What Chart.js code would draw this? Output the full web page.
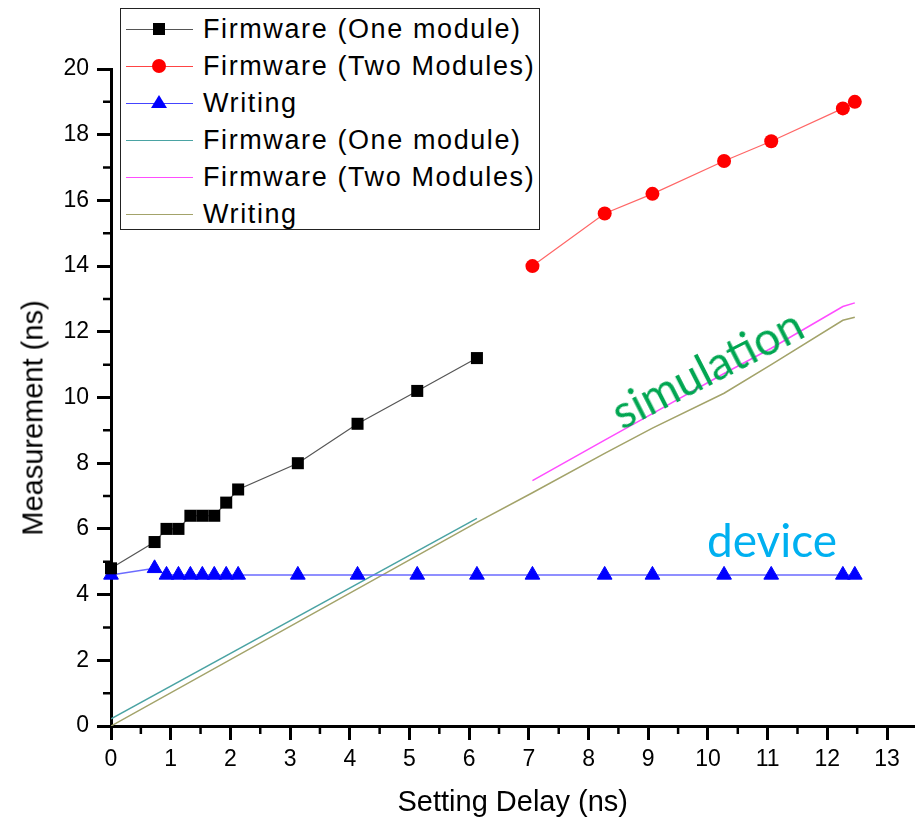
<!DOCTYPE html>
<html>
<head>
<meta charset="utf-8">
<script src="https://cdn.jsdelivr.net/npm/chart.js@4.4.1/dist/chart.umd.min.js"></script>
<style>
  body { margin: 0; background: #fff; }
  #wrap { position: relative; width: 916px; height: 822px; overflow: hidden; }
  #c { position: absolute; left: 0; top: 0; }
  #legend {
    position: absolute; left: 120px; top: 8px; width: 420px; height: 222px;
    border: 1px solid #222; background: #fff; box-sizing: border-box;
    font-family: "Liberation Sans", Arial, sans-serif; font-size: 27px; letter-spacing: 1.6px;
  }
  .row { position: absolute; left: 0; height: 37px; width: 100%; }
  .row .ln { position: absolute; left: 5px; width: 67px; top: 18px; height: 0; border-top: 1px solid; }
  .row .mk { position: absolute; }
  .row .tx { position: absolute; left: 82px; top: 2px; line-height: 32px; color: #000; white-space: nowrap; }
  .note { position: absolute; font-family: Lato, "Open Sans", sans-serif; font-size: 46px; white-space: nowrap; line-height: 1; }
  #ytitle { position: absolute; left: 33px; top: 418px; transform: translate(-50%,-50%) rotate(-90deg);
    font-family: "Liberation Sans", Arial, sans-serif; font-size: 29px; white-space: nowrap; color: #000; line-height: 1; }
</style>
</head>
<body>
<div id="wrap">
  <canvas id="c" width="924" height="822"></canvas>
  <div id="ytitle">Measurement (ns)</div>
  <div id="legend"></div>
  <div class="note" style="left:707px; top:368px; color:#00a651; transform: translate(-50%,-50%) rotate(-27deg);">simulation</div>
  <div class="note" style="left:772px; top:540px; color:#00b0f0; transform: translate(-50%,-50%);">device</div>
</div>
<script>
// measured data
const delayOne = [0, 0.73, 0.93, 1.13, 1.33, 1.53, 1.73, 1.93, 2.13, 3.13, 4.13, 5.13, 6.13];
const firmwareOne = [4.8, 5.6, 6.0, 6.0, 6.4, 6.4, 6.4, 6.8, 7.2, 8.0, 9.2, 10.2, 11.2];
const delayTwo = [7.06, 8.27, 9.07, 10.27, 11.06, 12.26, 12.46];
const firmwareTwo = [14.0, 15.6, 16.2, 17.2, 17.8, 18.8, 19.0];
const writingDelay = [0, 0.73, 0.93, 1.13, 1.33, 1.53, 1.73, 1.93, 2.13, 3.13, 4.13, 5.13, 6.13,
  7.06, 8.27, 9.07, 10.27, 11.06, 12.26, 12.46];
const writing = [4.6, 4.8, 4.6, 4.6, 4.6, 4.6, 4.6, 4.6, 4.6, 4.6, 4.6, 4.6, 4.6,
  4.6, 4.6, 4.6, 4.6, 4.6, 4.6, 4.6];

// simulation curves
const simOneDelay = [0, 6.13];
const simOne = [0.22, 6.32];
const simTwoDelay = [7.06, 8.27, 9.07, 10.27, 11.06, 12.26, 12.46];
const simTwo = [7.47, 8.7, 9.51, 10.73, 11.5, 12.77, 12.88];
const simWritingDelay = [0, 6.13, 7.06, 8.27, 9.07, 10.27, 11.06, 12.26, 12.46];
const simWriting = [0, 6.2, 7.1, 8.3, 9.07, 10.13, 11.0, 12.35, 12.44];

const xTicks = [0, 1, 2, 3, 4, 5, 6, 7, 8, 9, 10, 11, 12, 13];
const yTicks = [0, 2, 4, 6, 8, 10, 12, 14, 16, 18, 20];

const pts = (xs, ys) => xs.map((x, i) => ({ x: x, y: ys[i] }));

// minor ticks, half way between the labelled ones
const minorTicks = {
  id: 'minorTicks',
  afterDraw(chart) {
    const ctx = chart.ctx;
    const xs = chart.scales.x, ys = chart.scales.y;
    ctx.save();
    ctx.strokeStyle = '#000';
    ctx.lineWidth = 2.5;
    ctx.beginPath();
    for (let i = 0; i < xTicks.length; i++) {
      const px = xs.getPixelForValue(xTicks[i] + 0.5);
      if (px > xs.right) continue;
      ctx.moveTo(px, ys.bottom);
      ctx.lineTo(px, ys.bottom + 8);
    }
    for (let i = 0; i < yTicks.length - 1; i++) {
      const py = ys.getPixelForValue(yTicks[i] + 1);
      ctx.moveTo(xs.left, py);
      ctx.lineTo(xs.left - 8, py);
    }
    ctx.stroke();
    ctx.restore();
  }
};

const tickFont = { family: '"Liberation Sans", Arial, sans-serif', size: 23 };

new Chart(document.getElementById('c'), {
  type: 'scatter',
  data: {
    datasets: [
      { label: 'Firmware (One module)', data: pts(simOneDelay, simOne), showLine: true,
        borderColor: '#4aa3a3', borderWidth: 1.5, pointRadius: 0, order: 5 },
      { label: 'Firmware (Two Modules)', data: pts(simTwoDelay, simTwo), showLine: true,
        borderColor: '#ff4dff', borderWidth: 1.5, pointRadius: 0, order: 5 },
      { label: 'Writing', data: pts(simWritingDelay, simWriting), showLine: true,
        borderColor: '#a3a36a', borderWidth: 1.5, pointRadius: 0, order: 5 },
      { label: 'Writing', data: pts(writingDelay, writing), showLine: true,
        borderColor: '#6b6bff', borderWidth: 1.5, pointStyle: 'triangle', pointRadius: 8.5,
        pointBackgroundColor: '#0000ff', pointBorderColor: '#0000ff', pointBorderWidth: 1, order: 3, clip: false },
      { label: 'Firmware (Two Modules)', data: pts(delayTwo, firmwareTwo), showLine: true,
        borderColor: '#ff6666', borderWidth: 1.2, pointStyle: 'circle', pointRadius: 7,
        pointBackgroundColor: '#ff0000', pointBorderColor: '#ff0000', pointBorderWidth: 0, order: 2, clip: false },
      { label: 'Firmware (One module)', data: pts(delayOne, firmwareOne), showLine: true,
        borderColor: '#555555', borderWidth: 1.2, pointStyle: 'rect', pointRadius: 8.5,
        pointBackgroundColor: '#000000', pointBorderColor: '#000000', pointBorderWidth: 0, order: 1, clip: false }
    ]
  },
  options: {
    responsive: false,
    animation: false,
    layout: { padding: { top: 69, right: 0, left: 0, bottom: 0 } },
    plugins: { legend: { display: false }, tooltip: { enabled: false } },
    scales: {
      x: {
        type: 'linear', min: 0, max: 13.46,
        afterFit: s => { s.height = 96; },
        afterBuildTicks: s => { s.ticks = xTicks.map(v => ({ value: v })); },
        grid: { drawOnChartArea: false, drawTicks: true, tickLength: 14, tickWidth: 3, tickColor: '#000' },
        border: { color: '#000', width: 3 },
        ticks: { color: '#000', font: tickFont, padding: 6 },
        title: { display: true, text: 'Setting Delay (ns)', color: '#000',
          font: { family: '"Liberation Sans", Arial, sans-serif', size: 29 }, padding: { top: 0, bottom: 2 } }
      },
      y: {
        type: 'linear', min: 0, max: 20,
        afterFit: s => { s.width = 111; },
        afterBuildTicks: s => { s.ticks = yTicks.map(v => ({ value: v })); },
        grid: { drawOnChartArea: false, drawTicks: true, tickLength: 14, tickWidth: 3, tickColor: '#000' },
        border: { color: '#000', width: 3 },
        ticks: { color: '#000', font: tickFont, padding: 8 }
      }
    }
  },
  plugins: [minorTicks]
});

// legend, same order and look as the figure
const legendItems = [
  { text: 'Firmware (One module)', line: '#555555', mark: 'square', color: '#000' },
  { text: 'Firmware (Two Modules)', line: '#ff4444', mark: 'circle', color: '#ff0000' },
  { text: 'Writing', line: '#4444ff', mark: 'triangle', color: '#0000ff' },
  { text: 'Firmware (One module)', line: '#4aa3a3', mark: null },
  { text: 'Firmware (Two Modules)', line: '#ff4dff', mark: null },
  { text: 'Writing', line: '#a3a36a', mark: null }
];
const legend = document.getElementById('legend');
legendItems.forEach((it, i) => {
  const row = document.createElement('div');
  row.className = 'row';
  row.style.top = (2 + i * 37) + 'px';
  let mk = '';
  if (it.mark === 'square') mk = '<div class="mk" style="left:32px;top:12px;width:12px;height:12px;background:' + it.color + '"></div>';
  if (it.mark === 'circle') mk = '<div class="mk" style="left:31px;top:11px;width:14px;height:14px;border-radius:50%;background:' + it.color + '"></div>';
  if (it.mark === 'triangle') mk = '<div class="mk" style="left:30px;top:10px;width:0;height:0;border-left:8px solid transparent;border-right:8px solid transparent;border-bottom:13px solid ' + it.color + '"></div>';
  row.innerHTML = '<div class="ln" style="border-color:' + it.line + '"></div>' + mk + '<div class="tx">' + it.text + '</div>';
  legend.appendChild(row);
});
</script>
</body>
</html>
